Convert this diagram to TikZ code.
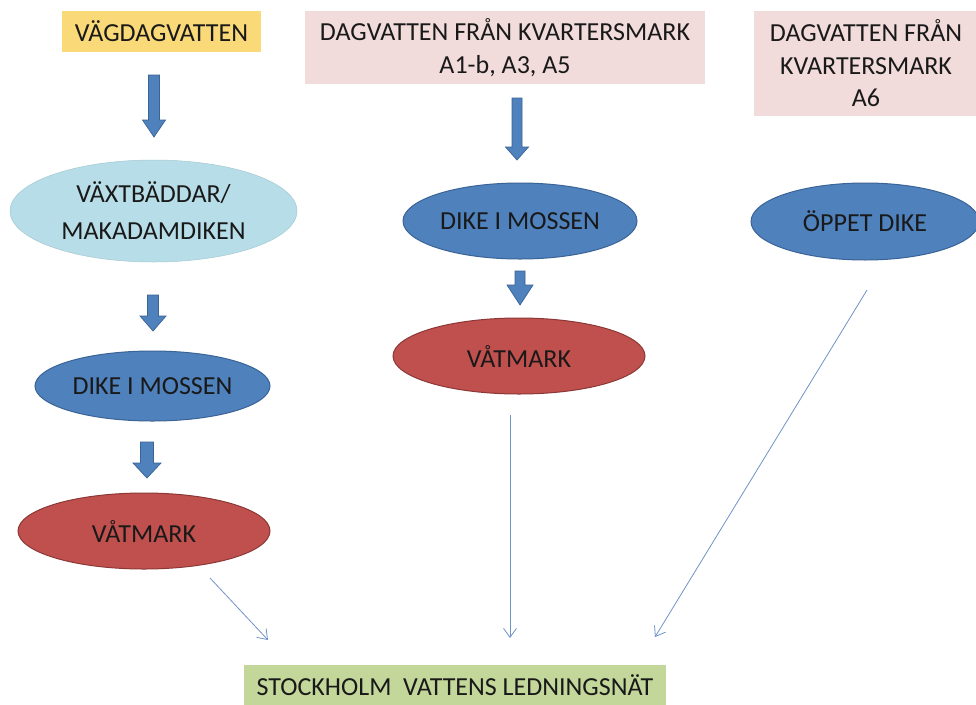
\documentclass[tikz,border=0pt]{standalone}
\usepackage{fontspec}
\setmainfont{Carlito}
\usetikzlibrary{shapes.geometric,arrows.meta}
\definecolor{yellowbox}{HTML}{FAD978}
\definecolor{pinkbox}{HTML}{F2DCDB}
\definecolor{greenbox}{HTML}{C4D79B}
\definecolor{lightblue}{HTML}{B7DEE8}
\definecolor{midblue}{HTML}{4F81BD}
\definecolor{blueedge}{HTML}{3A6396}
\definecolor{redfill}{HTML}{C0504D}
\definecolor{rededge}{HTML}{8C3836}
\definecolor{thinblue}{HTML}{6F93C8}
\tikzset{
  txt/.style={font=\fontsize{26}{32.5}\selectfont, text=black!90, align=center},
  srcbox/.style={txt, rectangle, inner sep=0pt},
  oval/.style={txt, ellipse, inner sep=0pt, line width=1pt},
  blueoval/.style={oval, fill=midblue, draw=blueedge},
  redoval/.style={oval, fill=redfill, draw=rededge},
  barrowstyle/.style={fill=midblue, draw=blueedge, line width=0.7pt, line join=miter},
  thin/.style={draw=thinblue, line width=0.8pt, -{Straight Barb[length=9pt,width=13pt]}}
}
\newcommand\barrow[6]{% x, ytop, ybot, shaft width, head width, head length
  \draw[barrowstyle] ({#1-#4/2},#2) -- ({#1+#4/2},#2) -- ({#1+#4/2},{#3-#6}) -- ({#1+#5/2},{#3-#6})
    -- (#1,#3) -- ({#1-#5/2},{#3-#6}) -- ({#1-#4/2},{#3-#6}) -- cycle;}
\begin{document}
\begin{tikzpicture}[x=1pt,y=-1pt]
\useasboundingbox[fill=white] (0,0) rectangle (976,704);
% source boxes
\node[srcbox, fill=yellowbox, minimum width=199pt, minimum height=41pt] (vag) at (161.5,31.5) {VÄGDAGVATTEN};
\node[srcbox, fill=pinkbox, minimum width=400pt, minimum height=73pt] (kv1) at (505,47.5) {DAGVATTEN FRÅN KVARTERSMARK\\A1-b, A3, A5};
\node[srcbox, fill=pinkbox, minimum width=224pt, minimum height=105pt] (kv2) at (866,63.5) {DAGVATTEN FRÅN\\KVARTERSMARK\\A6};
% left column
\node[oval, fill=lightblue, draw=lightblue!90!black, line width=0.5pt, minimum width=287pt, minimum height=102pt, font=\fontsize{26}{37}\selectfont] (vaxt) at (153.5,211) {VÄXTBÄDDAR/\\MAKADAMDIKEN};
\node[blueoval, minimum width=235pt, minimum height=70pt] (dike1) at (152.5,386) {DIKE I MOSSEN};
\node[redoval, minimum width=252pt, minimum height=76pt] (vat1) at (144,531) {VÅTMARK};
% middle column
\node[blueoval, minimum width=234pt, minimum height=76pt] (dike2) at (520,221) {DIKE I MOSSEN};
\node[redoval, minimum width=252pt, minimum height=76pt] (vat2) at (519,356) {VÅTMARK};
% right column
\node[blueoval, minimum width=228pt, minimum height=77pt] (oppet) at (865,221.5) {ÖPPET DIKE};
% target
\node[srcbox, fill=greenbox, minimum width=422pt, minimum height=40pt] (sthlm) at (455,685) {STOCKHOLM\ \ VATTENS LEDNINGSNÄT};
% block arrows
\barrow{154}{75}{137}{11}{23}{17}
\barrow{153}{295}{331}{11}{26}{15}
\barrow{147}{442}{478}{13}{28}{15}
\barrow{517}{98}{160}{10}{23}{13}
\barrow{520}{271}{305}{10}{26}{20}
% thin arrows
\coordinate (t1s) at (210,578);
\coordinate (t1e) at (268,640);
\coordinate (t2s) at (510,415);
\coordinate (t2e) at (510,638);
\coordinate (t3s) at (867,290);
\coordinate (t3e) at (655,637);
\draw[thin] (t1s) -- (t1e);
\draw[thin] (t2s) -- (t2e);
\draw[thin] (t3s) -- (t3e);
\end{tikzpicture}
\end{document}
